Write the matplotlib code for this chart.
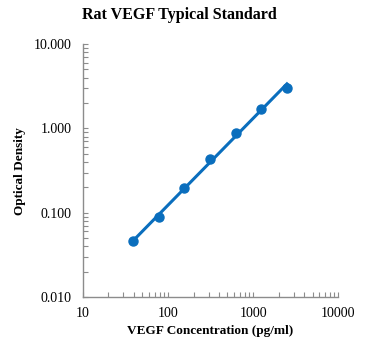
import numpy as np
import matplotlib.pyplot as plt
from matplotlib.ticker import FixedLocator, FixedFormatter, LogLocator, NullFormatter

# standard curve data
conc = [39.06, 78.13, 156.25, 312.5, 625, 1250, 2500]
od = [0.046, 0.089, 0.195, 0.43, 0.88, 1.72, 3.0]

x_ticks = [10, 100, 1000, 10000]
x_labels = ["10", "100", "1000", "10000"]
y_ticks = [0.01, 0.1, 1, 10]
y_labels = ["0.010", "0.100", "1.000", "10.000"]

plt.rcParams['font.family'] = ['Liberation Serif', 'DejaVu Serif']

fig = plt.figure(figsize=(3.7, 3.55), dpi=100)
ax = fig.add_axes([0.224, 0.163, 0.690, 0.713])

# power trendline fit in log-log space
k, b = np.polyfit(np.log10(conc), np.log10(od), 1)
xf = np.array([conc[0], conc[-1]])
ax.plot(xf, 10 ** (k * np.log10(xf) + b), color='#0A6EBD', lw=2.2, zorder=2)
ax.plot(conc, od, 'o', color='#0A6EBD', ms=6.5, zorder=3)

ax.set_xscale('log')
ax.set_yscale('log')
ax.set_xlim(10, 10000)
ax.set_ylim(0.01, 10)
ax.xaxis.set_major_locator(FixedLocator(x_ticks))
ax.xaxis.set_major_formatter(FixedFormatter(x_labels))
ax.yaxis.set_major_locator(FixedLocator(y_ticks))
ax.yaxis.set_major_formatter(FixedFormatter(y_labels))
ax.xaxis.set_minor_locator(LogLocator(base=10, subs=np.arange(2, 10)))
ax.yaxis.set_minor_locator(LogLocator(base=10, subs=np.arange(2, 10)))
ax.xaxis.set_minor_formatter(NullFormatter())
ax.yaxis.set_minor_formatter(NullFormatter())

for s in ['top', 'right']:
    ax.spines[s].set_visible(False)
for s in ['left', 'bottom']:
    ax.spines[s].set_color('#8C8C8C')
    ax.spines[s].set_linewidth(1)
ax.tick_params(which='both', direction='in', color='#8C8C8C', labelsize=10, length=3.5, width=0.8)
ax.tick_params(axis='x', which='both', pad=7)
ax.tick_params(axis='y', which='both', pad=8)

fig.text(0.486, 0.958, "Rat VEGF Typical Standard", fontsize=11.5, fontweight='bold',
         ha='center', va='center')
ax.set_xlabel("VEGF Concentration (pg/ml)", fontsize=9.5, fontweight='bold', labelpad=4)
ax.set_ylabel("Optical Density", fontsize=9.5, fontweight='bold', labelpad=6)

fig.savefig("out.png", dpi=100)
